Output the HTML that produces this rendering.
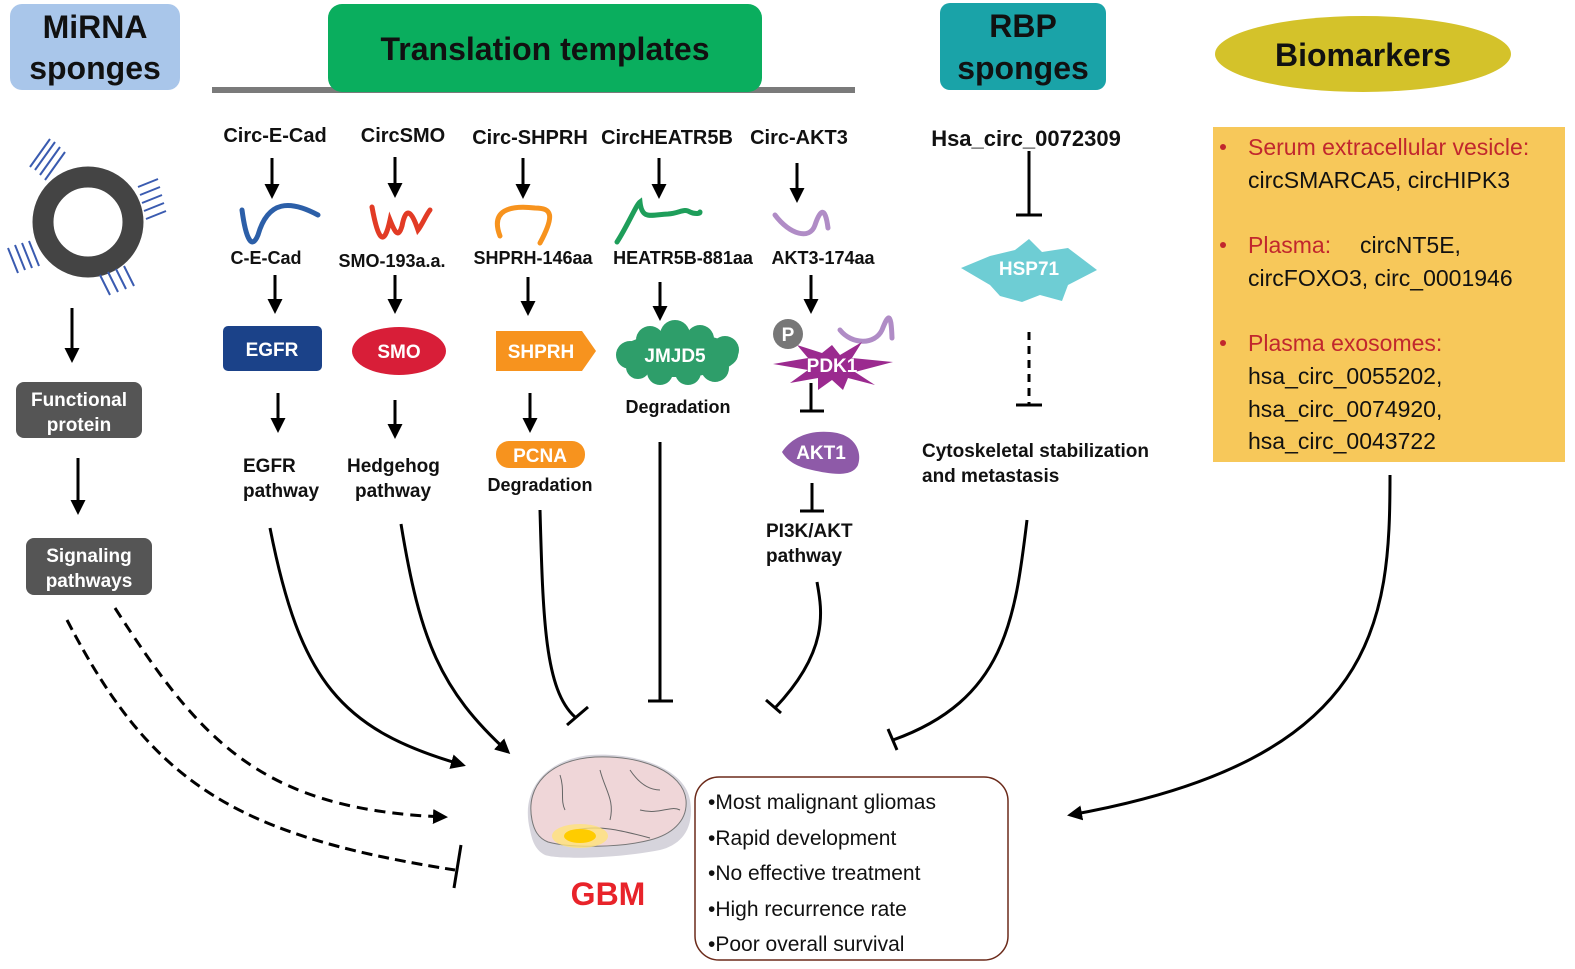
<!DOCTYPE html>
<html><head><meta charset="utf-8"><style>
html,body{margin:0;padding:0;background:#fff;}
svg{display:block;}
text{font-family:"Liberation Sans",sans-serif;}
.h{font-weight:bold;font-size:32px;fill:#111;}
.l{font-size:20px;fill:#111;font-weight:bold;}
.w{font-size:19px;fill:#fff;font-weight:bold;}
.b{font-size:23px;fill:#111;}
.r{font-size:23px;fill:#c1272d;}
.g{font-size:21px;fill:#111;}
</style></head><body>
<svg width="1575" height="969" viewBox="0 0 1575 969" xmlns="http://www.w3.org/2000/svg">
<defs>
<marker id="a" viewBox="0 0 10 10" refX="8" refY="5" markerWidth="5" markerHeight="5" orient="auto"><path d="M0,0L10,5L0,10z" fill="#000"/></marker>
</defs>
<!-- headers -->
<rect x="10" y="4" width="170" height="86" rx="12" fill="#a9c6ea"/>
<text class="h" x="95" y="38" text-anchor="middle">MiRNA</text>
<text class="h" x="95" y="79" text-anchor="middle">sponges</text>
<rect x="212" y="87" width="643" height="6" fill="#7a7a7a"/>
<rect x="328" y="4" width="434" height="88" rx="14" fill="#0aae5e"/>
<text class="h" x="545" y="60" text-anchor="middle">Translation templates</text>
<rect x="940" y="3" width="166" height="87" rx="10" fill="#1aa3a8"/>
<text class="h" x="1023" y="37" text-anchor="middle">RBP</text>
<text class="h" x="1023" y="79" text-anchor="middle">sponges</text>
<ellipse cx="1363" cy="54" rx="148" ry="38" fill="#d4c22a"/>
<text class="h" x="1363" y="66" text-anchor="middle">Biomarkers</text>

<!-- left column -->
<circle cx="88" cy="222" r="45" fill="none" stroke="#444" stroke-width="21"/>
<g stroke="#3a5bb0" stroke-width="2" fill="none">
<path d="M35,170 l20,-28 M40,175 l20,-28 M45,180 l20,-28 M30,167 l20,-28"/>
<path d="M140,195 l20,-8 M142,203 l20,-8 M144,211 l20,-8 M138,187 l20,-8 M146,219 l20,-8"/>
<path d="M15,245 l10,25 M22,243 l10,25 M29,241 l10,25 M8,248 l10,25"/>
<path d="M100,275 l10,20 M108,272 l10,20 M116,269 l10,20 M124,266 l10,20"/>
</g>
<g stroke="#000" stroke-width="3" fill="none">
<line x1="72" y1="308" x2="72" y2="360" marker-end="url(#a)"/>
<line x1="78" y1="458" x2="78" y2="512" marker-end="url(#a)"/>
</g>
<rect x="16" y="382" width="126" height="56" rx="8" fill="#555"/>
<text class="w" x="79" y="406" text-anchor="middle">Functional</text>
<text class="w" x="79" y="431" text-anchor="middle">protein</text>
<rect x="26" y="538" width="126" height="57" rx="8" fill="#555"/>
<text class="w" x="89" y="562" text-anchor="middle">Signaling</text>
<text class="w" x="89" y="587" text-anchor="middle">pathways</text>

<!-- column labels -->
<g class="l" text-anchor="middle">
<text class="l" x="275" y="142" text-anchor="middle">Circ-E-Cad</text>
<text class="l" x="403" y="142" text-anchor="middle">CircSMO</text>
<text class="l" x="530" y="144" text-anchor="middle">Circ-SHPRH</text>
<text class="l" x="667" y="144" text-anchor="middle">CircHEATR5B</text>
<text class="l" x="799" y="144" text-anchor="middle">Circ-AKT3</text>
<text class="l" x="266" y="264" text-anchor="middle" style="font-size:18px">C-E-Cad</text>
<text class="l" x="392" y="267" text-anchor="middle" style="font-size:18px">SMO-193a.a.</text>
<text class="l" x="533" y="264" text-anchor="middle" style="font-size:18px">SHPRH-146aa</text>
<text class="l" x="683" y="264" text-anchor="middle" style="font-size:18px">HEATR5B-881aa</text>
<text class="l" x="823" y="264" text-anchor="middle" style="font-size:18px">AKT3-174aa</text>
<text class="l" x="1026" y="146" text-anchor="middle" style="font-size:22px">Hsa_circ_0072309</text>
</g>
<g stroke="#000" stroke-width="3" fill="none">
<line x1="272" y1="158" x2="272" y2="196" marker-end="url(#a)"/>
<line x1="395" y1="157" x2="395" y2="195" marker-end="url(#a)"/>
<line x1="523" y1="158" x2="523" y2="196" marker-end="url(#a)"/>
<line x1="659" y1="158" x2="659" y2="196" marker-end="url(#a)"/>
<line x1="797" y1="163" x2="797" y2="200" marker-end="url(#a)"/>
<line x1="275" y1="275" x2="275" y2="311" marker-end="url(#a)"/>
<line x1="395" y1="275" x2="395" y2="311" marker-end="url(#a)"/>
<line x1="528" y1="277" x2="528" y2="313" marker-end="url(#a)"/>
<line x1="660" y1="282" x2="660" y2="318" marker-end="url(#a)"/>
<line x1="811" y1="275" x2="811" y2="311" marker-end="url(#a)"/>
<line x1="278" y1="393" x2="278" y2="430" marker-end="url(#a)"/>
<line x1="395" y1="400" x2="395" y2="436" marker-end="url(#a)"/>
<line x1="530" y1="393" x2="530" y2="430" marker-end="url(#a)"/>
</g>
<!-- squiggles -->
<g fill="none" stroke-width="5" stroke-linecap="round">
<path d="M242,210 C246,240 252,250 258,235 C268,200 290,200 318,215" stroke="#2c5fa8"/>
<path d="M372,207 C378,240 384,248 390,220 C394,230 398,240 402,226 C406,205 412,212 418,230 C422,225 426,215 430,210" stroke="#e23b25"/>
<path d="M500,236 C490,210 510,205 535,208 C552,208 555,215 540,243" stroke="#f7931e"/>
<path d="M617,242 C628,225 636,205 640,202 C642,220 650,215 668,214 C680,213 684,208 690,212 C694,214 700,214 700,212" stroke="#1e9e5a"/>
<path d="M775,215 C790,235 810,240 815,225 C820,210 825,205 828,228" stroke="#b08cc6"/>
<path d="M840,330 C852,345 875,345 882,330 C888,315 891,310 892,338" stroke="#b08cc6"/>
</g>
<!-- shapes -->
<rect x="223" y="326" width="99" height="45" rx="5" fill="#1b4289"/>
<text class="w" x="272" y="356" text-anchor="middle">EGFR</text>
<ellipse cx="399" cy="351" rx="47" ry="24" fill="#d81e38"/>
<text class="w" x="399" y="358" text-anchor="middle">SMO</text>
<path d="M496,331 L582,331 L596,351 L582,371 L496,371z" fill="#f7931e"/>
<text class="w" x="541" y="358" text-anchor="middle">SHPRH</text>
<g fill="#2e9e6a">
<ellipse cx="678" cy="355" rx="60" ry="22"/>
<circle cx="630" cy="355" r="14"/><circle cx="650" cy="340" r="14"/><circle cx="675" cy="335" r="15"/><circle cx="700" cy="339" r="14"/><circle cx="725" cy="350" r="14"/><circle cx="715" cy="368" r="14"/><circle cx="688" cy="372" r="13"/><circle cx="660" cy="372" r="13"/><circle cx="638" cy="367" r="12"/>
</g>
<text class="w" x="675" y="362" text-anchor="middle">JMJD5</text>
<text class="l" x="678" y="413" text-anchor="middle" style="font-size:18px">Degradation</text>
<polygon points="832,345 840,355 862,342 852,358 893,362 855,372 875,385 848,378 843,390 832,380 818,390 818,378 790,383 808,370 773,364 808,358 797,345 822,353" fill="#9b2a8f"/>
<circle cx="788" cy="334" r="15" fill="#777"/>
<text class="w" x="788" y="341" text-anchor="middle">P</text>
<text class="w" x="832" y="372" text-anchor="middle">PDK1</text>
<path d="M782,452 C790,440 805,430 830,432 C858,434 862,455 858,465 C852,478 830,474 812,470 C798,467 788,462 782,452z" fill="#8e5aa8"/>
<text class="w" x="821" y="459" text-anchor="middle">AKT1</text>
<g stroke="#000" stroke-width="3" fill="none">
<line x1="811" y1="383" x2="811" y2="410"/><line x1="800" y1="411" x2="824" y2="411"/>
<line x1="812" y1="483" x2="812" y2="510"/><line x1="800" y1="511" x2="824" y2="511"/>
<line x1="1029" y1="151" x2="1029" y2="215"/><line x1="1016" y1="215" x2="1042" y2="215"/>
<line x1="1029" y1="332" x2="1029" y2="405" stroke-dasharray="8,6"/><line x1="1016" y1="405" x2="1042" y2="405"/>
</g>
<text class="l" x="766" y="537" style="font-size:19px">PI3K/AKT</text>
<text class="l" x="766" y="562" style="font-size:19px">pathway</text>
<text class="l" x="243" y="472" style="font-size:19px">EGFR</text>
<text class="l" x="243" y="497" style="font-size:19px">pathway</text>
<text class="l" x="347" y="472" style="font-size:19px">Hedgehog</text>
<text class="l" x="355" y="497" style="font-size:19px">pathway</text>
<rect x="496" y="441" width="89" height="27" rx="13" fill="#f7931e"/>
<text class="w" x="540" y="462" text-anchor="middle">PCNA</text>
<text class="l" x="540" y="491" text-anchor="middle" style="font-size:18px">Degradation</text>
<polygon points="1029,239 1042,252 1068,248 1097,270 1068,285 1062,301 1040,295 1022,302 1000,296 990,285 961,268 990,256 1015,250" fill="#6ecdd4"/>
<text class="w" x="1029" y="275" text-anchor="middle">HSP71</text>
<text class="l" x="922" y="457" style="font-size:19px">Cytoskeletal stabilization</text>
<text class="l" x="922" y="482" style="font-size:19px">and metastasis</text>

<!-- biomarkers box -->
<rect x="1213" y="127" width="352" height="335" fill="#f7c85a"/>
<g>
<circle cx="1223" cy="147" r="3" fill="#c1272d"/>
<text class="r" x="1248" y="155">Serum  extracellular vesicle:</text>
<text class="b" x="1248" y="188">circSMARCA5, circHIPK3</text>
<circle cx="1223" cy="245" r="3" fill="#c1272d"/>
<text class="r" x="1248" y="253">Plasma:</text><text class="b" x="1360" y="253">circNT5E,</text>
<text class="b" x="1248" y="286">circFOXO3, circ_0001946</text>
<circle cx="1223" cy="343" r="3" fill="#c1272d"/>
<text class="r" x="1248" y="351">Plasma exosomes:</text>
<text class="b" x="1248" y="384">hsa_circ_0055202,</text>
<text class="b" x="1248" y="417">hsa_circ_0074920,</text>
<text class="b" x="1248" y="449">hsa_circ_0043722</text>
</g>

<!-- connectors to GBM -->
<g stroke="#000" stroke-width="3" fill="none">
<path d="M270,528 C300,680 340,730 463,765" marker-end="url(#a)"/>
<path d="M401,524 C420,640 440,690 508,752" marker-end="url(#a)"/>
<path d="M540,510 C543,620 545,690 575,717"/>
<line x1="567" y1="725" x2="588" y2="707"/>
<line x1="660" y1="442" x2="660" y2="700"/>
<line x1="648" y1="701" x2="673" y2="701"/>
<path d="M817,582 C822,610 830,650 775,708"/>
<line x1="766" y1="700" x2="781" y2="713"/>
<path d="M1027,520 C1015,620 1005,700 893,740"/>
<line x1="888" y1="729" x2="897" y2="750"/>
<path d="M1390,475 C1390,620 1380,760 1070,815" marker-end="url(#a)"/>
<path d="M115,608 C200,740 260,810 445,817" stroke-dasharray="11,7" marker-end="url(#a)"/>
<path d="M67,620 C150,780 230,835 455,870" stroke-dasharray="11,6"/>
<line x1="461" y1="845" x2="454" y2="888"/>
</g>

<!-- brain -->
<path d="M530,830 C520,790 545,760 590,755 C640,752 685,770 690,800 C695,830 680,845 660,850 C620,858 560,860 545,855 C535,850 532,840 530,830z" fill="#d6d4dc"/>
<path d="M532,820 C525,785 550,760 595,757 C642,755 683,772 686,800 C688,822 670,835 650,840 C620,848 570,848 548,842 C538,838 534,830 532,820z" fill="#efd6d8" stroke="#777" stroke-width="1"/>
<g stroke="#666" stroke-width="1" fill="none">
<path d="M560,775 C565,790 560,800 565,810"/><path d="M600,770 C605,790 615,800 610,820"/><path d="M630,770 C640,785 650,790 660,790"/><path d="M640,810 C660,815 670,805 680,810"/><path d="M575,830 C600,825 620,830 650,838"/>
</g>
<ellipse cx="580" cy="836" rx="28" ry="12" fill="#ffe27a" opacity="0.8"/>
<ellipse cx="580" cy="836" rx="16" ry="7" fill="#ffcc00"/>
<text x="608" y="905" text-anchor="middle" style="font-size:32px;font-weight:900;fill:#e8232a;font-family:'Liberation Sans',sans-serif">GBM</text>

<rect x="695" y="777" width="313" height="183" rx="24" fill="#fff" stroke="#6b2a1a" stroke-width="1.5"/>
<g class="g">
<text class="g" x="708" y="809">•Most malignant gliomas</text>
<text class="g" x="708" y="845">•Rapid development</text>
<text class="g" x="708" y="880">•No effective treatment</text>
<text class="g" x="708" y="916">•High recurrence rate</text>
<text class="g" x="708" y="951">•Poor overall survival</text>
</g>
</svg>
</body></html>
